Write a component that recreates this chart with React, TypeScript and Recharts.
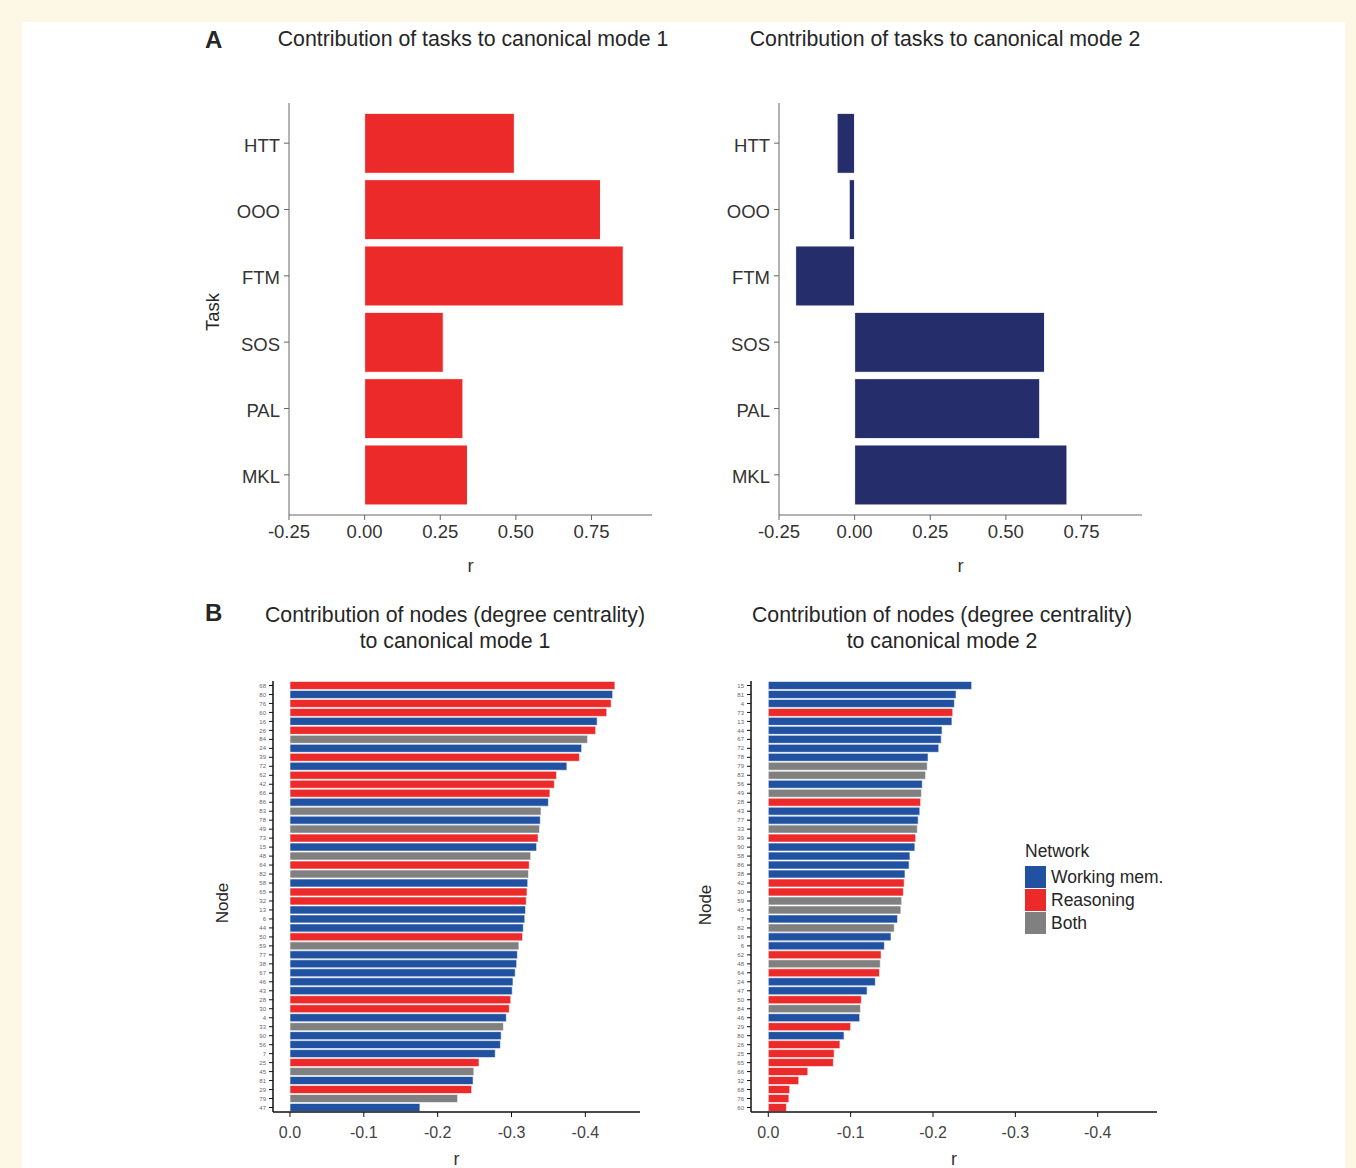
import React from 'react';
import { BarChart, Bar, XAxis, YAxis, Cell } from 'recharts';

// panel A: task loadings
const tasks = ['HTT', 'OOO', 'FTM', 'SOS', 'PAL', 'MKL'];
const mode1Tasks = [0.495, 0.78, 0.855, 0.26, 0.325, 0.34];
const mode2Tasks = [-0.058, -0.018, -0.195, 0.628, 0.612, 0.702];
const taskTicks = [-0.25, 0, 0.25, 0.5, 0.75];

// panel B: node degree centrality loadings (W = working mem., R = reasoning, B = both)
const mode1Nodes = ['68', '80', '76', '60', '16', '26', '84', '24', '39', '72', '62', '42', '66', '86', '83', '78', '49', '73', '15', '48', '64', '82', '58', '65', '32', '13', '6', '44', '50', '59', '77', '38', '67', '46', '43', '28', '30', '4', '33', '90', '56', '7', '25', '45', '81', '29', '79', '47'];
const mode1Values = [-0.440, -0.437, -0.435, -0.429, -0.416, -0.414, -0.403, -0.395, -0.392, -0.375, -0.361, -0.358, -0.352, -0.350, -0.340, -0.339, -0.338, -0.336, -0.334, -0.326, -0.324, -0.323, -0.322, -0.321, -0.320, -0.319, -0.318, -0.316, -0.315, -0.310, -0.308, -0.307, -0.305, -0.302, -0.301, -0.299, -0.297, -0.293, -0.289, -0.286, -0.285, -0.278, -0.256, -0.249, -0.248, -0.246, -0.227, -0.176];
const mode1Networks = ['R', 'W', 'R', 'R', 'W', 'R', 'B', 'W', 'R', 'W', 'R', 'R', 'R', 'W', 'B', 'W', 'B', 'R', 'W', 'B', 'R', 'B', 'W', 'R', 'R', 'W', 'W', 'W', 'R', 'B', 'W', 'W', 'W', 'W', 'W', 'R', 'R', 'W', 'B', 'W', 'W', 'W', 'R', 'B', 'W', 'R', 'B', 'W'];

const mode2Nodes = ['15', '81', '4', '73', '13', '44', '67', '72', '78', '79', '83', '56', '49', '28', '43', '77', '33', '39', '90', '58', '86', '38', '42', '30', '59', '45', '7', '82', '16', '6', '62', '48', '64', '24', '47', '50', '84', '46', '29', '80', '26', '25', '65', '66', '32', '68', '76', '60'];
const mode2Values = [-0.247, -0.228, -0.226, -0.224, -0.223, -0.211, -0.210, -0.207, -0.194, -0.193, -0.191, -0.187, -0.186, -0.185, -0.184, -0.182, -0.181, -0.179, -0.178, -0.172, -0.171, -0.166, -0.165, -0.164, -0.162, -0.161, -0.157, -0.153, -0.149, -0.141, -0.137, -0.136, -0.135, -0.130, -0.120, -0.113, -0.112, -0.111, -0.100, -0.092, -0.087, -0.080, -0.079, -0.048, -0.037, -0.026, -0.025, -0.022];
const mode2Networks = ['W', 'W', 'W', 'R', 'W', 'W', 'W', 'W', 'W', 'B', 'B', 'W', 'B', 'R', 'W', 'W', 'B', 'R', 'W', 'W', 'W', 'W', 'R', 'R', 'B', 'B', 'W', 'B', 'W', 'W', 'R', 'B', 'R', 'W', 'W', 'R', 'B', 'W', 'R', 'W', 'R', 'R', 'R', 'R', 'R', 'R', 'R', 'R'];
const nodeTicks = [0, -0.1, -0.2, -0.3, -0.4];

const netColors: Record<string, string> = { W: '#2152a1', R: '#ed2a2a', B: '#808080' };
const legendItems = [['W', 'Working mem.'], ['R', 'Reasoning'], ['B', 'Both']];

const font = '"Liberation Sans", Arial, Helvetica, sans-serif';

const Txt = ({ x, y, size, children, bold, rotate, align }: any) => (
  <div style={{
    position: 'absolute', left: x, top: y, fontSize: size, color: '#262626', whiteSpace: 'nowrap',
    fontWeight: bold ? 700 : 400, lineHeight: 1.2, textAlign: 'center',
    transform: `translate(${align === 'left' ? '0' : '-50%'}, -50%)${rotate ? ' rotate(-90deg)' : ''}`,
  }}>{children}</div>
);

const TaskPanel = ({ values, color, left }: { values: number[]; color: string; left: number }) => {
  const data = tasks.map((t, i) => ({ task: t, r: values[i] }));
  return (
    <div style={{ position: 'absolute', left, top: 90 }}>
      <BarChart width={470} height={487} data={data} layout="vertical"
        margin={{ top: 13, right: 18, bottom: 0, left: 0 }} barCategoryGap="5%">
        <XAxis type="number" domain={[-0.25, 0.95]} ticks={taskTicks} allowDataOverflow
          tickFormatter={(v: number) => v.toFixed(2)} height={62} stroke="#666"
          tick={{ fill: '#333', fontSize: 18.5 }} tickSize={5} tickMargin={5}
          label={{ value: 'r', position: 'insideBottom', offset: 5, fill: '#333', fontSize: 18.5 }} />
        <YAxis type="category" dataKey="task" width={89} padding={{ top: 7, bottom: 7 }} stroke="#666"
          tick={{ fill: '#333', fontSize: 18.5, dy: 2 }} tickSize={5} tickMargin={4} interval={0} />
        <Bar dataKey="r" fill={color} stroke="#fff" strokeWidth={1} isAnimationActive={false} />
      </BarChart>
    </div>
  );
};

const NodePanel = ({ nodes, values, networks, left, width, domain }: any) => {
  const data = nodes.map((n: string, i: number) => ({ node: n, r: values[i], net: networks[i] }));
  return (
    <div style={{ position: 'absolute', left, top: 670 }}>
      <BarChart width={width} height={502} data={data} layout="vertical"
        margin={{ top: 11, right: 10, bottom: 0, left: 0 }} barCategoryGap="5%">
        <XAxis type="number" domain={domain} ticks={nodeTicks} allowDataOverflow reversed
          tickFormatter={(v: number) => (v === 0 ? '0.0' : v.toFixed(1))} height={60}
          axisLine={{ stroke: '#111', strokeWidth: 1.5 }} tickLine={{ stroke: '#111' }}
          tick={{ fill: '#444', fontSize: 16 }} tickSize={5} tickMargin={10}
          label={{ value: 'r', position: 'insideBottom', offset: 7, fill: '#333', fontSize: 18 }} />
        <YAxis type="category" dataKey="node" width={43} interval={0}
          axisLine={{ stroke: '#111', strokeWidth: 1.5 }} tickLine={{ stroke: '#111' }}
          tick={{ fill: '#666', fontSize: 6 }} tickSize={4} tickMargin={3} />
        <Bar dataKey="r" stroke="#fff" strokeWidth={0.6} isAnimationActive={false}>
          {data.map((d: any, i: number) => <Cell key={i} fill={netColors[d.net]} />)}
        </Bar>
      </BarChart>
    </div>
  );
};

export default function App() {
  return (
    <div style={{ position: 'absolute', left: 0, top: 0, width: 1356, height: 1168, background: '#fdf8e5', overflow: 'hidden', fontFamily: font }}>
      <div style={{ position: 'absolute', left: 22, top: 22, width: 1323, height: 1160, background: '#fff' }} />

      <Txt x={205} y={40} size={24} bold align="left">A</Txt>
      <Txt x={473} y={40} size={21.3}>Contribution of tasks to canonical mode 1</Txt>
      <Txt x={945} y={40} size={21.3}>Contribution of tasks to canonical mode 2</Txt>
      <Txt x={213} y={312} size={18.5} rotate>Task</Txt>

      <TaskPanel values={mode1Tasks} color="#ed2a2a" left={200} />
      <TaskPanel values={mode2Tasks} color="#252e6b" left={690} />

      <Txt x={205} y={613} size={24} bold align="left">B</Txt>
      <Txt x={455} y={629} size={21.3}>Contribution of nodes (degree centrality)<br />to canonical mode 1</Txt>
      <Txt x={942} y={629} size={21.3}>Contribution of nodes (degree centrality)<br />to canonical mode 2</Txt>
      <Txt x={223} y={903} size={17} rotate>Node</Txt>
      <Txt x={706} y={905} size={17} rotate>Node</Txt>

      <NodePanel nodes={mode1Nodes} values={mode1Values} networks={mode1Networks} left={230} width={420} domain={[-0.474, 0.023]} />
      <NodePanel nodes={mode2Nodes} values={mode2Values} networks={mode2Networks} left={708} width={459} domain={[-0.472, 0.021]} />

      <Txt x={1025} y={851} size={17.5} align="left">Network</Txt>
      {legendItems.map(([k, label], i) => (
        <React.Fragment key={k}>
          <div style={{ position: 'absolute', left: 1025, top: 866 + i * 23, width: 21, height: 22, background: netColors[k] }} />
          <Txt x={1051} y={877 + i * 23} size={17.5} align="left">{label}</Txt>
        </React.Fragment>
      ))}
    </div>
  );
}
